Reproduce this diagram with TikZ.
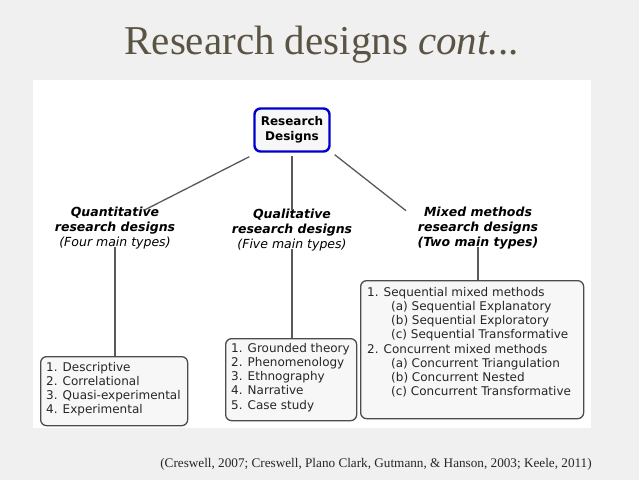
\documentclass[tikz,border=0pt]{standalone}
\usepackage{fontspec}
\setmainfont{Liberation Serif}
\newfontfamily\dv{DejaVu Sans}
\definecolor{titlec}{HTML}{5B5444}
\begin{document}
\begin{tikzpicture}[x=1pt,y=-1pt,
  lbl/.style={font=\dv\fontsize{12.5}{15}\selectfont,align=center,inner sep=0pt},
  listbox/.style={draw=black!70,line width=1.3pt,rounded corners=6pt,fill=cyan!6!gray!7,anchor=north west,inner sep=0pt},
  listtext/.style={anchor=north west,font=\dv\fontsize{12}{14.2}\selectfont,align=left,inner sep=0pt,text=black!85},
  conn/.style={draw=black!65,line width=1.3pt}]
\fill[gray!12] (0,0) rectangle (639,480);
\useasboundingbox (0,0) rectangle (639,480);
\fill[white] (33,80) rectangle (591,428);
\node[font=\fontsize{41}{46}\selectfont,text=titlec] (title) at (322,45) {Research designs \textit{cont...}};
\node[draw=blue!80!black,line width=2.4pt,rounded corners=6pt,fill=cyan!5!gray!7,minimum width=75pt,minimum height=43pt,align=center,font=\dv\bfseries\fontsize{12}{15}\selectfont] (root) at (292,130) {Research\\Designs};
\node[lbl] (quant) at (115,228) {\textbf{\textit{Quantitative}}\\\textbf{\textit{research designs}}\\\textit{(Four main types)}};
\node[lbl] (qual) at (292,230) {\textbf{\textit{Qualitative}}\\\textbf{\textit{research designs}}\\\textit{(Five main types)}};
\node[lbl] (mixed) at (478,228) {\textbf{\textit{Mixed methods}}\\\textbf{\textit{research designs}}\\\textbf{\textit{(Two main types)}}};
\node[listbox,minimum width=147pt,minimum height=69pt] (b1) at (40,356) {};
\node[listtext] (t1) at (46,362) {1. Descriptive\\2. Correlational\\3. Quasi-experimental\\4. Experimental};
\node[listbox,minimum width=131pt,minimum height=82pt] (b2) at (225,338) {};
\node[listtext] (t2) at (231,343) {1. Grounded theory\\2. Phenomenology\\3. Ethnography\\4. Narrative\\5. Case study};
\node[listbox,minimum width=223pt,minimum height=138pt] (b3) at (360,280) {};
\node[listtext] (t3) at (367,287) {1. Sequential mixed methods\\\hspace{2em}(a) Sequential Explanatory\\\hspace{2em}(b) Sequential Exploratory\\\hspace{2em}(c) Sequential Transformative\\2. Concurrent mixed methods\\\hspace{2em}(a) Concurrent Triangulation\\\hspace{2em}(b) Concurrent Nested\\\hspace{2em}(c) Concurrent Transformative};
\draw[conn] (root.south west)++(-4,4) -- ([xshift=30pt,yshift=-3pt]quant.north);
\draw[conn] ([yshift=-3pt]root.south) -- ([yshift=-1pt]qual.north);
\draw[conn] (root.south east)++(4,2) -- ([xshift=-72pt,yshift=-4pt]mixed.north);
\draw[conn] ([yshift=2pt]quant.south) -- (quant.south |- b1.north);
\draw[conn] ([yshift=2pt]qual.south) -- (b2.north -| qual.south);
\draw[conn] ([yshift=2pt]mixed.south) -- (b3.north -| mixed.south);
\node[font=\fontsize{13.2}{15}\selectfont,text=black!85] (cite) at (376,464) {(Creswell, 2007; Creswell, Plano Clark, Gutmann, \& Hanson, 2003; Keele, 2011)};
\end{tikzpicture}
\end{document}
